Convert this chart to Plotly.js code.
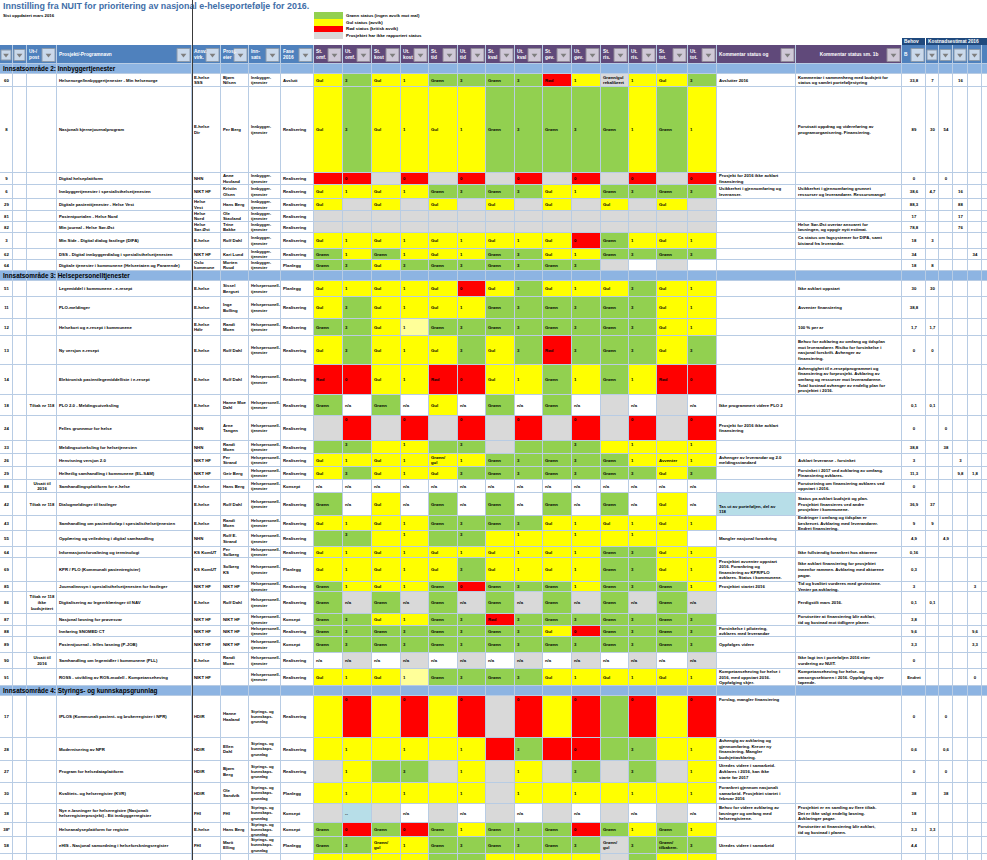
<!DOCTYPE html>
<html lang="no">
<head>
<meta charset="utf-8">
<script src="https://cdn.plot.ly/plotly-3.0.1.min.js"></script>
<style>
html,body{margin:0;padding:0;background:#ffffff;}
#chart{width:987px;height:860px;}
</style>
</head>
<body>
<div id="chart"></div>
<script>
/* ================= DATA ================= */
const titleText = "Innstilling fra NUIT for prioritering av nasjonal e-helseportefølje for 2016.";
const subtitleText = "Sist oppdatert mars 2016";
const legendStatus = ["G", "Y", "R", "A"];
const legendLabels = ["Grønn status (ingen avvik mot mål)", "Gul status (avvik)", "Rød status (kritisk avvik)", "Prosjektet har ikke rapportert status"];
const sectionTitles = ["Innsatsområde 2: Innbyggertjenester", "Innsatsområde 3: Helsepersonelltjenester", "Innsatsområde 4: Styrings- og kunnskapsgrunnlag"];
const areaLabels = ["Innbygger- tjenester", "Helsepersonell- tjenester", "Styrings- og kunnskaps- grunnlag"];
const headerLabels = ["", "", "Ut-/ post", "Prosjekt/-Programnavn", "Ansv. virk.", "Prosj. eier", "Inn- sats", "Fase 2016",
  "St. omf.", "Ut. omf.", "St. kost", "Ut. kost", "St. tid", "Ut. tid", "St. kval", "Ut. kval", "St. gev.", "Ut. gev.", "St. ris.", "Ut. ris.", "St. tot.", "Ut. tot.",
  "Kommentar status og", "Kommentar status sm. 1b", "B", "", "", "", "", ""];
const budgetTopLabels = ["Behov", "Kostnadsestimat 2016"];

const rowSection = [0,0,0,0,0,0,0,0,0,0, 1,1,1,1,1,1,1,1,1,1,1,1,1,1,1,1,1,1,1,1,1,1,1, 2,2,2,2,2,2,2,2];
const ids = ["60","8","9","6","29","81","82","3","62","64",
  "51","11","12","13","14","18","24","33","26","29","88","42","43","55","64","69","85","86","87","88","89","90","91",
  "17","28","27","30","38","38*","58","39"];
const notes = ["","","","","","","","","","",
  "","","","","","Tiltak nr 118","","","","","Utsatt til 2016","Tiltak nr 118","","","","","","Tiltak nr 118 ikke budsjettert","","","","Utsatt til 2016","",
  "","","","","","","",""];
const projects = [
  "Helsenorge/Innbyggertjenester - Min helsenorge",
  "Nasjonalt kjernejournalprogram",
  "Digital helseplattform",
  "Innbyggertjenester i spesialisthelsetjenesten",
  "Digitale pasienttjenester - Helse Vest",
  "Pasientportalen - Helse Nord",
  "Min journal - Helse Sør-Øst",
  "Min Side - Digital dialog fastlege (DIFA)",
  "DSS - Digital innbyggerdialog i spesialisthelsetjenesten",
  "Digitale tjenester i kommunene (Helseetaten og Pårørende)",
  "Legemiddel i kommunene - e-resept",
  "PLO-meldinger",
  "Helsekort og e-resept i kommunene",
  "Ny versjon e-resept",
  "Elektronisk pasientlegemiddelliste i e-resept",
  "PLO 2.0 - Meldingsutveksling",
  "Felles grunnmur for helse",
  "Meldingsutveksling for helsetjenesten",
  "Henvisning versjon 2.0",
  "Helhetlig samhandling i kommunene (EL-SAM)",
  "Samhandlingsplattform for e-helse",
  "Dialogmeldinger til fastleger",
  "Samhandling om pasientforløp i spesialisthelsetjenesten",
  "Opplæring og veiledning i digital samhandling",
  "Informasjonsforvaltning og terminologi",
  "KPR / PLO (Kommunalt pasientregister)",
  "Journalinnsyn i spesialisthelsetjenesten for fastleger",
  "Digitalisering av legeerklæringer til NAV",
  "Nasjonal løsning for prøvesvar",
  "Innføring SNOMED CT",
  "Pasientjournal - felles løsning (P-JOB)",
  "Samhandling om legemidler i kommunene (PLL)",
  "ROSS - utvikling av ROS-modell - Kompetanseheving",
  "IPLOS (Kommunalt pasient- og brukerregister i NPR)",
  "Modernisering av NPR",
  "Program for helsedataplattform",
  "Kvalitets- og helseregister (KVR)",
  "Nye e-løsninger for helseregistre (Nasjonalt helseregisterprosjekt) - Ett innbyggerregister",
  "Helseanalyseplattform for registre",
  "eHIS - Nasjonal samordning i helseforskningsregister",
  "Kunnskapsbasert praksis i helsetjenesten"];
const owners = ["E-helse SSS","E-helse Dir","NHN","NIKT HF","Helse Vest","Helse Nord","Helse Sør-Øst","E-helse","NIKT HF","Oslo kommune",
  "E-helse","E-helse","E-helse Hdir","E-helse","E-helse","E-helse","NHN","NHN","NIKT HF","NIKT HF","E-helse","E-helse","E-helse","NHN","KS KomUT","KS KomUT","NIKT HF","E-helse","NIKT HF","NIKT HF","NIKT HF","E-helse","NIKT HF",
  "HDIR","HDIR","HDIR","HDIR","FHI","E-helse","FHI","HDIR"];
const leaders = ["Bjørn Nilsen","Per Berg","Anne Hovland","Kristin Olsen","Hans Berg","Ole Stavland","Trine Bakke","Rolf Dahl","Kari Lund","Morten Ruud",
  "Sissel Bergset","Inge Bolling","Randi Moen","Rolf Dahl","Rolf Dahl","Hanne Moe Dahl","Arne Tangen","Randi Moen","Per Strand","Geir Berg","Hans Berg","Rolf Dahl","Randi Moen","Rolf E. Strand","Per Solberg","Solberg KS","NIKT HF","Rolf Dahl","NIKT HF","NIKT HF","NIKT HF","Randi Moen","",
  "Hanne Haaland","Ellen Dahl","Bjørn Berg","Ole Sandvik","FHI","Hans Berg","Marit Elling","Lars Aas"];
const phases = ["Avslutt","Realisering","Realisering","Realisering","Realisering","Realisering","Realisering","Realisering","Realisering","Planlegg",
  "Planlegg","Realisering","Realisering","Realisering","Realisering","Realisering","Realisering","Realisering","Realisering","Realisering","Konsept","Realisering","Realisering","Realisering","Realisering","Planlegg","Realisering","Realisering","Konsept","Realisering","Konsept","Realisering","Realisering",
  "Realisering","Realisering","Realisering","Planlegg","Konsept","Konsept","Planlegg",""];

/* status colour per cell: Y gul, G grønn, R rød, A grå, W hvit, L lys gul, B lys blå */
const statusColors = [
  "YGYYGGGGRYAYYG","YGYYYYGGGGGYGY","RRARARARARARAR","YYYYGGGGYYGGGG","YAYAYAYAYAYAYA",
  "AAAAAAAAAAAAAA","AAAAAAAAAAAAAA","YYYYYYYYYRGYYY","GYGYYYGGYYGGGG","GGYGGGGGGGAWAW",
  "YYYYYRYGYYYGYY","YGYYYYGGGGGGYY","GGYLGGGGGGGGYY","YGYYYGYGRGGGYG","RRYYRRYYGYGYRR",
  "GWGWYWGWGWAWAW","ARARARARARARAR","GGYYGGAGGGYYYY","YYYYYYGGGGGYYY","YGYYYGGGGGGGYG",
  "WWWWWWWWWWWWWW","GWYWGWGWGWGWYW","YYYYGGGGYYYYYY","GGYYGGYYYYYYYW","YYYYYYYYYYGGYY",
  "YYYYYGYYYYGGYY","GYYYGRGGGYGGGY","GAGAGAGAGAGAGA","GGYYGGRGGGGGGG","GGGGGGGGYRGGGG",
  "GGGGGGGGGGGGGG","WAWAWAWAWAWAWA","YYYLGGGGYYYYYY",
  "YRYRYRARYRGRYR","YYYYYYRGRRGGYY","AYGGAYAYAGAGAY","YYYYYYAYYYYYYY","ABAWAWAWAWAWAW",
  "GRGRGYGGGRGYGY","GGYYGGGGGGAGGG","YYYYGGYYYYAGYY"];
const statusTexts = [
  "Gul|3|Gul|1|Grønn|3|Grønn|3|Rød|1|Grønn/gul rekalibrert|1|Gul|3",
  "Gul|3|Gul|1|Gul|1|Grønn|3|Grønn|3|Grønn|1|Grønn|1",
  "|0||0||0||0||0||0||0",
  "Gul|1|Gul|1|Grønn|3|Grønn|3|Gul|1|Grønn|3|Grønn|3",
  "Gul||Gul||Gul||Gul||Gul||Gul||Gul|",
  "",
  "",
  "Gul|1|Gul|1|Gul|1|Gul|1|Gul|0|Grønn|1|Gul|1",
  "Grønn|1|Grønn|1|Gul|1|Grønn|3|Gul|1|Grønn|3|Grønn|3",
  "Grønn|3|Gul|3|Grønn|3|Grønn|3|Grønn|3",
  "Gul|1|Gul|1|Gul|0|Gul|3|Gul|1|Gul|3|Gul|1",
  "Gul|3|Gul|1|Gul|1|Grønn|3|Grønn|3|Grønn|3|Gul|1",
  "Grønn|3|Gul|1|Grønn|3|Grønn|3|Grønn|3|Grønn|3|Gul|1",
  "Gul|3|Gul|1|Gul|3|Gul|3|Rød|3|Grønn|3|Gul|3",
  "Rød|0|Gul|1|Rød|0|Gul|1|Grønn|1|Grønn|1|Rød|0",
  "Grønn|n/a|Grønn|n/a|Gul|n/a|Grønn|n/a|Grønn|n/a||n/a||n/a",
  "|0||0||0||0||0||0||0",
  "|3||1||3||||3||1||1",
  "Gul|1|Gul|1|Grønn/ gul|1|Grønn|3|Grønn|3|Grønn|1|Avventer|1",
  "Gul|3|Gul|1|Gul|3|Grønn|3|Grønn|3|Grønn|3|Gul|3",
  "n/a|n/a|n/a|n/a|n/a|n/a|n/a|n/a|n/a|n/a|n/a|n/a|n/a|n/a",
  "Grønn|n/a|Gul|n/a|Grønn|n/a|Grønn|n/a|Grønn|n/a|Grønn|n/a|Gul|n/a",
  "Gul|1|Gul|1|Grønn|3|Grønn|3|Gul|1|Gul|1|Gul|1",
  "|3||1||3||1||1||1||",
  "Gul|1|Gul|1|Gul|1|Gul|1|Gul|1|Grønn|3|Gul|1",
  "Gul|1|Gul|1|Gul|3|Gul|1|Gul|1|Grønn|3|Gul|1",
  "Grønn|1|Gul|1|Grønn|0|Grønn|3|Grønn|1|Grønn|3|Grønn|1",
  "Grønn|n/a|Grønn|n/a|Grønn|n/a|Grønn|n/a|Grønn|n/a|Grønn|n/a|Grønn|n/a",
  "Grønn|3|Gul|1|Grønn|3|Rød|3|Grønn|3|Grønn|3|Grønn|3",
  "Grønn|3|Grønn|3|Grønn|3|Grønn|3|Gul|0|Grønn|3|Grønn|3",
  "Grønn|3|Grønn|3|Grønn|3|Grønn|3|Grønn|3|Grønn|3|Grønn|3",
  "n/a|n/a|n/a|n/a|n/a|n/a|n/a|n/a|n/a|n/a|n/a|n/a|n/a|n/a",
  "Gul|1|Gul|1|Grønn|3|Grønn|3|Gul|1|Gul|1|Gul|1",
  "|0||0||0||0||0||0||0",
  "|1||1||1||3||0||3||1",
  "|1||3||1||1||3||3||1",
  "|1||1||1||1||1||1||1",
  "|--||n/a||n/a||n/a||n/a||n/a||n/a",
  "Grønn|0|Grønn|0|Grønn|1|Grønn|3|Grønn|0|Grønn|1|Grønn|1",
  "Grønn|3|Grønn/ gul|1|Grønn|3|Grønn|3|Grønn|3|Grønn/ gul|3|Grønn/ tilbakem.|3",
  "||||||||||Grønn/ gul||Grønn/ tilbakem.|"];
const comment1Fill = "WWWWWWWWWW" + "WWWWWWWWWWWBWWWWWWWWWWW" + "WWWWWWWW";
const comment1 = [
  "Avslutter 2016","","Prosjekt for 2016 ikke avklart finansiering","Usikkerhet i gjennomføring og leveranser.","","","","","","",
  "","","","","","Ikke programmert videre PLO 2","Prosjekt for 2016 ikke avklart finansiering","","Avhenger av leverandør og 2.0 meldingsstandard","","","Tas ut av porteføljen, del av 118","","Mangler nasjonal forankring","",
  "Prosjektet avventer oppstart 2016. Forankring og finansiering av KPR/PLO avklares. Status i kommunene.",
  "Prosjektet startet 2016","","","Forsinkelse i pilotering, avklares med leverandør","Oppfølges videre","",
  "Kompetanseheving for helse i 2016, med oppstart 2016. Oppfølging skjer.",
  "Forslag, mangler finansiering",
  "Avhengig av avklaring og gjennomføring. Krever ny finansiering. Mangler budsjettavklaring.",
  "Utredes videre i samarbeid. Avklares i 2016, kan ikke starte før 2017",
  "Forankret gjennom nasjonalt samarbeid. Prosjektet startet i februar 2016",
  "Behov for videre avklaring av løsninger og omfang med helseregistrene.",
  "","Utredes videre i samarbeid",""];
const comment2 = [
  "Kommentar i sammenheng med budsjett for status og samlet porteføljestyring",
  "Forutsatt oppdrag og videreføring av programorganisering. Finansiering.",
  "",
  "Usikkerhet i gjennomføring grunnet ressurser og leverandører. Ressursmangel",
  "","",
  "Helse Sør-Øst overtar ansvaret for løsningen, og oppgir nytt estimat.",
  "Ca status om fagsystemer for DIFA, samt bistand fra leverandør.",
  "","",
  "Ikke avklart oppstart","Avventer finansiering","100 % per år",
  "Behov for avklaring av omfang og tidsplan mot leverandører. Risiko for forsinkelse i nasjonal forskrift. Avhenger av finansiering.",
  "Avhengighet til e-reseptprogrammet og finansiering av forprosjekt. Avklaring av omfang og ressurser mot leverandørene. Total kostnad avhenger av endelig plan for prosjektet i 2016.",
  "","","",
  "Avklart leveranse - forsinket",
  "Forsinket i 2017 ved avklaring av omfang. Finansiering avklares.",
  "Forutsetning om finansiering avklares ved oppstart i 2016.",
  "Status på avklart budsjett og plan. Prosjektet finansieres ved andre prosjekter i kommunene.",
  "Endringer i omfang og tidsplan er beskrevet. Avklaring med leverandører. Endret finansiering.",
  "",
  "Ikke fullstendig forankret hos aktørene",
  "Ikke avklart finansiering for prosjektet innenfor rammen. Avklaring med aktørene pågår.",
  "Tid og kvalitet vurderes med gevinstene. Venter på avklaring.",
  "Ferdigstilt mars 2016.",
  "Forutsetter at finansiering blir avklart, tid og kostnad mot tidligere planer.",
  "","",
  "Ikke lagt inn i porteføljen 2016 etter vurdering av NUIT.",
  "Kompetanseheving for helse- og omsorgssektoren i 2016. Oppfølging skjer løpende.",
  "","","","",
  "Prosjektet er en samling av flere tiltak. Det er ikke valgt endelig løsning. Avklaringer pågår.",
  "Forutsetter at finansiering blir avklart, tid og kostnad i planen.",
  "",
  "Ikke avklart omfang og ressurser for gjennomføring"];
const budgetTotal = ["33,8","89","0","38,6","88,3","17","78,8","18","34","18",
  "30","38,8","1,7","0","","0,1","0","38,8","3","11,3","0","36,9","9","4,9","0,16","0,3","3","0,1","3,8","9,6","3,3","0","Endret",
  "0","0,6","0","38","18","3,3","4,4",""];
const budget1 = ["7","30","","4,7","","","","3","","8",
  "30","","1,7","0","","0,1","","","","","","37","9","","","","","0,1","","","","","",
  "","","","","","3,3","",""];
const budget2 = ["","54","0","","","","","","","",
  "","","","","","","0","38","","","","","","4,9","","","","","","","","","",
  "0","0,6","0","38","","","",""];
const budget3 = ["16","","","16","88","17","76","","","",
  "","","","","","","","","3","9,8","","","","","","","","","","","","","",
  "","","","","","","",""];
const budget4 = ["","","","","","","","","34","",
  "","","","","","","","","","1,8","","","","","","","3","","","9,6","3,3","","0",
  "","","","","","","",""];
const budget5 = ["","","","","","","","","","",
  "","","","","","","","","","","","","","","","","","","","","","","",
  "","","","","","","",""];

/* ================= LAYOUT / STYLE ================= */
const colEdges = [0,13,27,57,192,221,249,281,314,343,372,401,429,458,486,515,543,572,601,629,657,688,717,796,902,926,939,953,968,982,996];
const HEADER_TOP = 45, HEADER_H = 19, BAND_H = 10;
const rowHeights = [13,86,12,14,12,11,11,16,11,11,
  16,22,17,29,30,21,25,13,13,13,13,23,15,16,11,24,10,22,12,11,16,16,17,
  42,23,22,21,19,14,17,16];
const topRows = [16,17,23,33];
const c1Top = [33];
const c1Bottom = [21];
const PALETTE = ['#ffffff','#ffff00','#92d050','#ff0000','#d9d9d9','#ffff99','#b7dee8','#4f81bd','#60497a','#8db4e2','#1f497d','#b8cce4'];
const CODE = {W:0,Y:1,G:2,R:3,A:4,L:5,B:6};
const FONT = "Liberation Sans, Arial, sans-serif";
const FS = 4.3;

const N = PALETTE.length;
const colorscale = [];
PALETTE.forEach((c,k)=>{ colorscale.push([k/N, c]); colorscale.push([(k+1)/N, c]); });

function wrap(s, n){
  if(!s) return '';
  const words = s.split(' ');
  const lines = []; let cur = '';
  for(const w of words){
    if(!cur) cur = w;
    else if((cur + ' ' + w).length <= n) cur += ' ' + w;
    else { lines.push(cur); cur = w; }
  }
  if(cur) lines.push(cur);
  return lines.join('<br>');
}

/* rows */
const rows = [];
let yy = HEADER_TOP;
rows.push({kind:'header', top:yy, bot:yy+HEADER_H}); yy += HEADER_H;
let prevSec = -1;
for(let i=0;i<ids.length;i++){
  if(rowSection[i] !== prevSec){ rows.push({kind:'band', sec:rowSection[i], top:yy, bot:yy+BAND_H}); yy += BAND_H; prevSec = rowSection[i]; }
  rows.push({kind:'data', i:i, top:yy, bot:yy+rowHeights[i]}); yy += rowHeights[i];
}
const rowEdges = [rows[0].top].concat(rows.map(r=>r.bot));
const NCOL = colEdges.length - 1;

const Z = rows.map(r=>{
  const z = new Array(NCOL).fill(0);
  if(r.kind==='header'){ for(let c=0;c<NCOL;c++) z[c] = (c>=8 && c<=23) ? 8 : 7; }
  else if(r.kind==='band'){ z.fill(9); }
  else {
    const s = statusColors[r.i];
    for(let k=0;k<14;k++) z[8+k] = CODE[s[k]];
    z[22] = CODE[comment1Fill[r.i]];
  }
  return z;
});

/* texts */
const T = {x:[],y:[],text:[],pos:[],color:[],size:[]};
function put(x,y,t,pos,color,size){
  if(t===''||t==null) return;
  T.x.push(x); T.y.push(y); T.text.push(t); T.pos.push(pos); T.color.push(color||'#000'); T.size.push(size||FS);
}
function cellText(c, r, t, align, valign, color, size){
  const x0 = colEdges[c], x1 = colEdges[c+1];
  let x, h;
  if(align==='center'){ x = (x0+x1)/2; h = 'center'; } else { x = x0 + 2; h = 'right'; }
  let y, v;
  if(valign==='top'){ y = r.top + 1.5; v = 'bottom'; }
  else if(valign==='bottom'){ y = r.bot - 1.5; v = 'top'; }
  else { y = (r.top + r.bot)/2; v = 'middle'; }
  put(x, y, t, v + ' ' + h, color, size);
}

const budgets = [budgetTotal, budget1, budget2, budget3, budget4, budget5];
const btn = {x:[], y:[], s:[]};
rows.forEach(r=>{
  if(r.kind==='header'){
    headerLabels.forEach((lab,c)=>{
      const isStatus = c>=8 && c<=21;
      const txt = wrap(lab, isStatus ? 4 : (c===3||c>=22 ? 40 : 7));
      cellText(c, r, txt, c===23 ? 'center' : 'left', 'middle', '#ffffff', 4.8);
      const w = colEdges[c+1]-colEdges[c];
      const bw = Math.min(13, w-3);
      btn.x.push(colEdges[c+1] - 2 - bw/2); btn.y.push((r.top+r.bot)/2 + 0.5); btn.s.push(bw);
    });
  } else if(r.kind==='band'){
    put(3, (r.top+r.bot)/2, sectionTitles[r.sec], 'middle right', '#000', 6.4);
  } else {
    const i = r.i;
    cellText(0, r, ids[i], 'center');
    cellText(2, r, wrap(notes[i], 13), 'center');
    cellText(3, r, wrap(projects[i], 62), 'left');
    cellText(4, r, wrap(owners[i], 9), 'left');
    cellText(5, r, wrap(leaders[i], 9), 'left');
    cellText(6, r, wrap(areaLabels[rowSection[i]], 15), 'left', 'middle', '#000', 3.9);
    cellText(7, r, phases[i], 'left');
    const st = statusTexts[i].split('|');
    const va = topRows.includes(i) ? 'top' : 'middle';
    for(let k=0;k<14;k++) cellText(8+k, r, wrap(st[k]||'', 7), 'left', va);
    cellText(22, r, wrap(comment1[i], 31), 'left', c1Top.includes(i) ? 'top' : (c1Bottom.includes(i) ? 'bottom' : 'middle'));
    cellText(23, r, wrap(comment2[i], 42), 'left');
    budgets.forEach((arr,j)=> cellText(24+j, r, arr[i], 'center'));
  }
});

/* title, subtitle, legend labels, budget band labels */
put(3, 7, titleText, 'middle right', '#3f6ea8', 8.9);
put(3, 16, subtitleText, 'middle right', '#000', 4.3);
const legendEdges = [12,19,26,32,39];
legendLabels.forEach((l,j)=> put(346, (legendEdges[j]+legendEdges[j+1])/2, l, 'middle right', '#000', 4.4));
const budgetTopEdges = [colEdges[24], colEdges[25], colEdges[30]];
budgetTopLabels.forEach((l,j)=> put(budgetTopEdges[j]+2, 41.5, l, 'middle right', '#ffffff', 4.8));

const traces = [
  {type:'heatmap', x:[colEdges[0], colEdges[NCOL]], y:[rowEdges[0], rowEdges[rowEdges.length-1]], z:[[11]],
   zmin:-0.5, zmax:N-0.5, colorscale:colorscale, showscale:false, hoverinfo:'skip'},
  {type:'heatmap', x:colEdges, y:rowEdges, z:Z, zmin:-0.5, zmax:N-0.5, colorscale:colorscale,
   showscale:false, xgap:1, ygap:1, hoverinfo:'skip'},
  {type:'heatmap', x:[314,343], y:legendEdges, z:legendStatus.map(s=>[CODE[s]]),
   zmin:-0.5, zmax:N-0.5, colorscale:colorscale, showscale:false, hoverinfo:'skip'},
  {type:'heatmap', x:budgetTopEdges, y:[38,45], z:[[10,10]], zmin:-0.5, zmax:N-0.5,
   colorscale:colorscale, showscale:false, xgap:1, hoverinfo:'skip'},
  {type:'scatter', mode:'markers', x:btn.x, y:btn.y, hoverinfo:'skip',
   marker:{symbol:'square', size:btn.s, color:'#ffffff', line:{color:'#a6a6a6', width:1}}},
  {type:'scatter', mode:'markers', x:btn.x, y:btn.y, hoverinfo:'skip',
   marker:{symbol:'triangle-down', size:5, color:'#7f7f7f', line:{width:0}}},
  {type:'scatter', mode:'text', x:T.x, y:T.y, text:T.text, textposition:T.pos, cliponaxis:false, hoverinfo:'skip',
   textfont:{family:FONT, size:T.size, color:T.color, weight:'bold'}}
];

const layout = {
  width:987, height:860, margin:{l:0,r:0,t:0,b:0},
  paper_bgcolor:'#ffffff', plot_bgcolor:'#ffffff', showlegend:false, hovermode:false,
  xaxis:{range:[0,987], visible:false, fixedrange:true},
  yaxis:{range:[860,0], visible:false, fixedrange:true},
  shapes:[{type:'line', xref:'x', yref:'y', x0:colEdges[4]+0.5, x1:colEdges[4]+0.5, y0:0, y1:rowEdges[rowEdges.length-1],
    line:{color:'#3a3a3a', width:1}, layer:'above'}]
};
Plotly.newPlot('chart', traces, layout, {staticPlot:true, displayModeBar:false});
</script>
</body>
</html>
